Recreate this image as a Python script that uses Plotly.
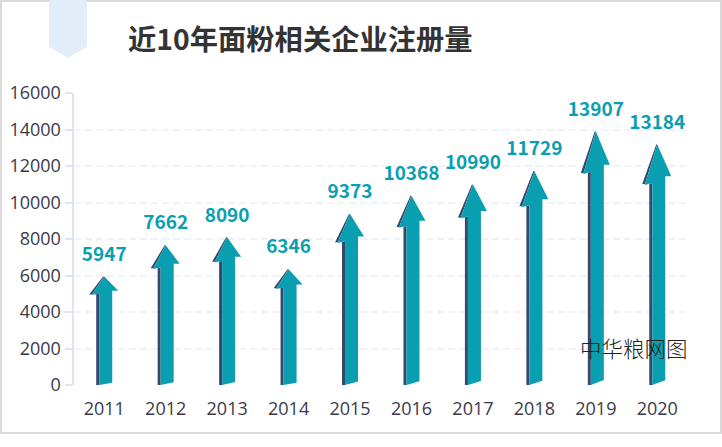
import plotly.graph_objects as go

years = ['2011', '2012', '2013', '2014', '2015', '2016', '2017', '2018', '2019', '2020']
counts = [5947, 7662, 8090, 6346, 9373, 10368, 10990, 11729, 13907, 13184]
y_ticks = [0, 2000, 4000, 6000, 8000, 10000, 12000, 14000, 16000]

W, H = 722, 447
TEAL = '#0a9fb0'
DARK = '#34496e'
FONT = 'Noto Sans CJK SC'
TICK_FONT = 'Open Sans'
BAND = 61.44  # px per category
LABEL_GAP = 600  # value labels sit this far above the arrow tip

# arrow outline: x is a px offset from the category centre, y a share of the value
teal_arrow = [(-5, 0), (-5, .84), (-12.5, .832), (0, 1), (14, .868), (8, .868), (8, .02), (-5, 0)]
dark_arrow = [(-8, 0), (-8, .835), (-15, .835), (-1, 1), (0, 1), (-12.5, .832), (-5, .84), (-5, 0), (-8, 0)]


def outline(points):
    xs, ys = [], []
    for i, v in enumerate(counts):
        for dx, share in points:
            xs.append(i + dx / BAND)
            ys.append(v * share)
        xs.append(None)
        ys.append(None)
    return xs, ys


fig = go.Figure()
for points, color in [(dark_arrow, DARK), (teal_arrow, TEAL)]:
    xs, ys = outline(points)
    fig.add_trace(go.Scatter(x=xs, y=ys, mode='lines', fill='toself', fillcolor=color,
                             line=dict(width=0), hoverinfo='skip', showlegend=False))

fig.add_trace(go.Scatter(x=list(range(len(years))), y=[v + LABEL_GAP for v in counts], mode='text',
                         text=[str(v) for v in counts], textposition='top center',
                         textfont=dict(family=FONT, size=19, color=TEAL, weight='bold'),
                         hoverinfo='skip', showlegend=False))

fig.update_layout(
    width=W, height=H,
    margin=dict(l=0, r=0, t=0, b=0),
    paper_bgcolor='white', plot_bgcolor='white',
    font=dict(family=TICK_FONT, size=18, color='#3a3a4a'),
    xaxis=dict(domain=[73.5 / W, 688 / W], range=[-.5, 9.5], tickmode='array',
               tickvals=list(range(len(years))), ticktext=years, showgrid=False, automargin=False,
               zeroline=False, showline=False, ticks='', ticklabelstandoff=11),
    yaxis=dict(domain=[1 - 385 / H, 1 - 93 / H], range=[0, 16000], tickmode='array',
               tickvals=y_ticks, tickformat='d', showgrid=True, gridcolor='#eef3fa', gridwidth=2,
               griddash='7px,4px', zeroline=False, showline=True, linecolor='#dbe4f3', linewidth=2,
               automargin=False, ticks='outside', ticklen=7, tickwidth=2, tickcolor='#dbe4f3'),
    shapes=[
        dict(type='rect', xref='paper', yref='paper', x0=1 / W, x1=1 - 1 / W, y0=1 - 433 / H, y1=1 - 1 / H,
             line=dict(color='#d9d9d9', width=2), fillcolor='rgba(0,0,0,0)', layer='below'),
        dict(type='path', xref='paper', yref='paper', layer='below', fillcolor='#e3edf9', line=dict(width=0),
             path='M %f 1 L %f 1 L %f %f L %f %f L %f %f Z' % (
                 49 / W, 87 / W, 87 / W, 1 - 47 / H, 68 / W, 1 - 58 / H, 49 / W, 1 - 47 / H)),
    ],
    annotations=[
        dict(text='<b>近10年面粉相关企业注册量</b>', xref='paper', yref='paper', x=126 / W, y=1 - 38 / H,
             xanchor='left', yanchor='middle', showarrow=False, font=dict(family=FONT, size=28.3, color='#333333')),
        dict(text='中华粮网图', xref='paper', yref='paper', x=578 / W, y=1 - 347 / H,
             xanchor='left', yanchor='middle', showarrow=False,
             font=dict(family=FONT, size=21.5, color='#222222', weight=300)),
    ],
)

fig.write_html("out.html", config=dict(displayModeBar=False), post_script="document.body.style.margin='0';")
